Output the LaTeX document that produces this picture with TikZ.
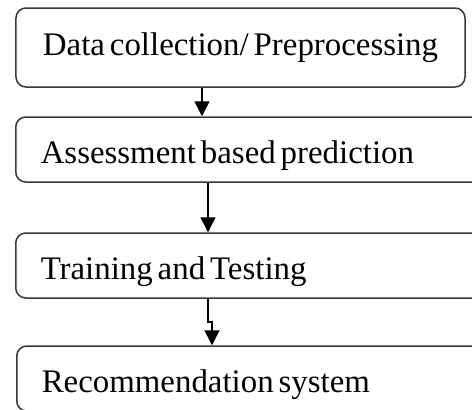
\documentclass[tikz,border=0pt]{standalone}
\usepackage{fontspec}
\setmainfont[WordSpace=0.6]{Liberation Serif}
\usepackage{tikz}
\usetikzlibrary{arrows.meta, positioning, calc}
\definecolor{boxedge}{rgb}{0.22, 0.22, 0.22}

\begin{document}
\begin{tikzpicture}[
				x=1bp, y=-1bp,
				every node/.style={font=\fontsize{33}{36}\selectfont},
				topblock/.style={draw=boxedge, line width=1.5bp, rounded corners=10bp, minimum width=449bp, minimum height=79bp, text height=23bp, text depth=8bp, inner xsep=0bp, align=center},
				block/.style={draw=boxedge, line width=1.5bp, rounded corners=10bp, text width=420bp, minimum height=65bp, text height=31bp, text depth=4bp, inner xsep=25bp, align=flush left, anchor=base west},
				arrowstyle/.style={-{Triangle[length=15bp, width=15bp]}, line width=1.4bp, black}
			]
			\useasboundingbox (0,0) rectangle (472,409);
			\clip (0,0) rectangle (472,409);

			% Main column nodes
			\node[topblock, anchor=base] (collect) at (240.5,55) {Data collection/ Preprocessing};
			\node[block] (assess) at (15,163) {Assessment based prediction};
			\node[block] (train) at (15,279) {Training and Testing};
			\node[block] (recommend) at (16,392) {Recommendation system};

			% Arrow columns
			\coordinate (col_a) at (202,0);
			\coordinate (col_b) at (208,0);
			\coordinate (col_c) at (212,0);
			\coordinate (jog_y) at (0,322);

			% Forward arrows
			\draw[arrowstyle] (collect.south -| col_a) -- (assess.north -| col_a);
			\draw[arrowstyle] (assess.south -| col_b) -- (train.north -| col_b);
			\draw[arrowstyle] (train.south -| col_b) -- (col_b |- jog_y)
			-- (col_c |- jog_y) -- (recommend.north -| col_c);

		\end{tikzpicture}
\end{document}
